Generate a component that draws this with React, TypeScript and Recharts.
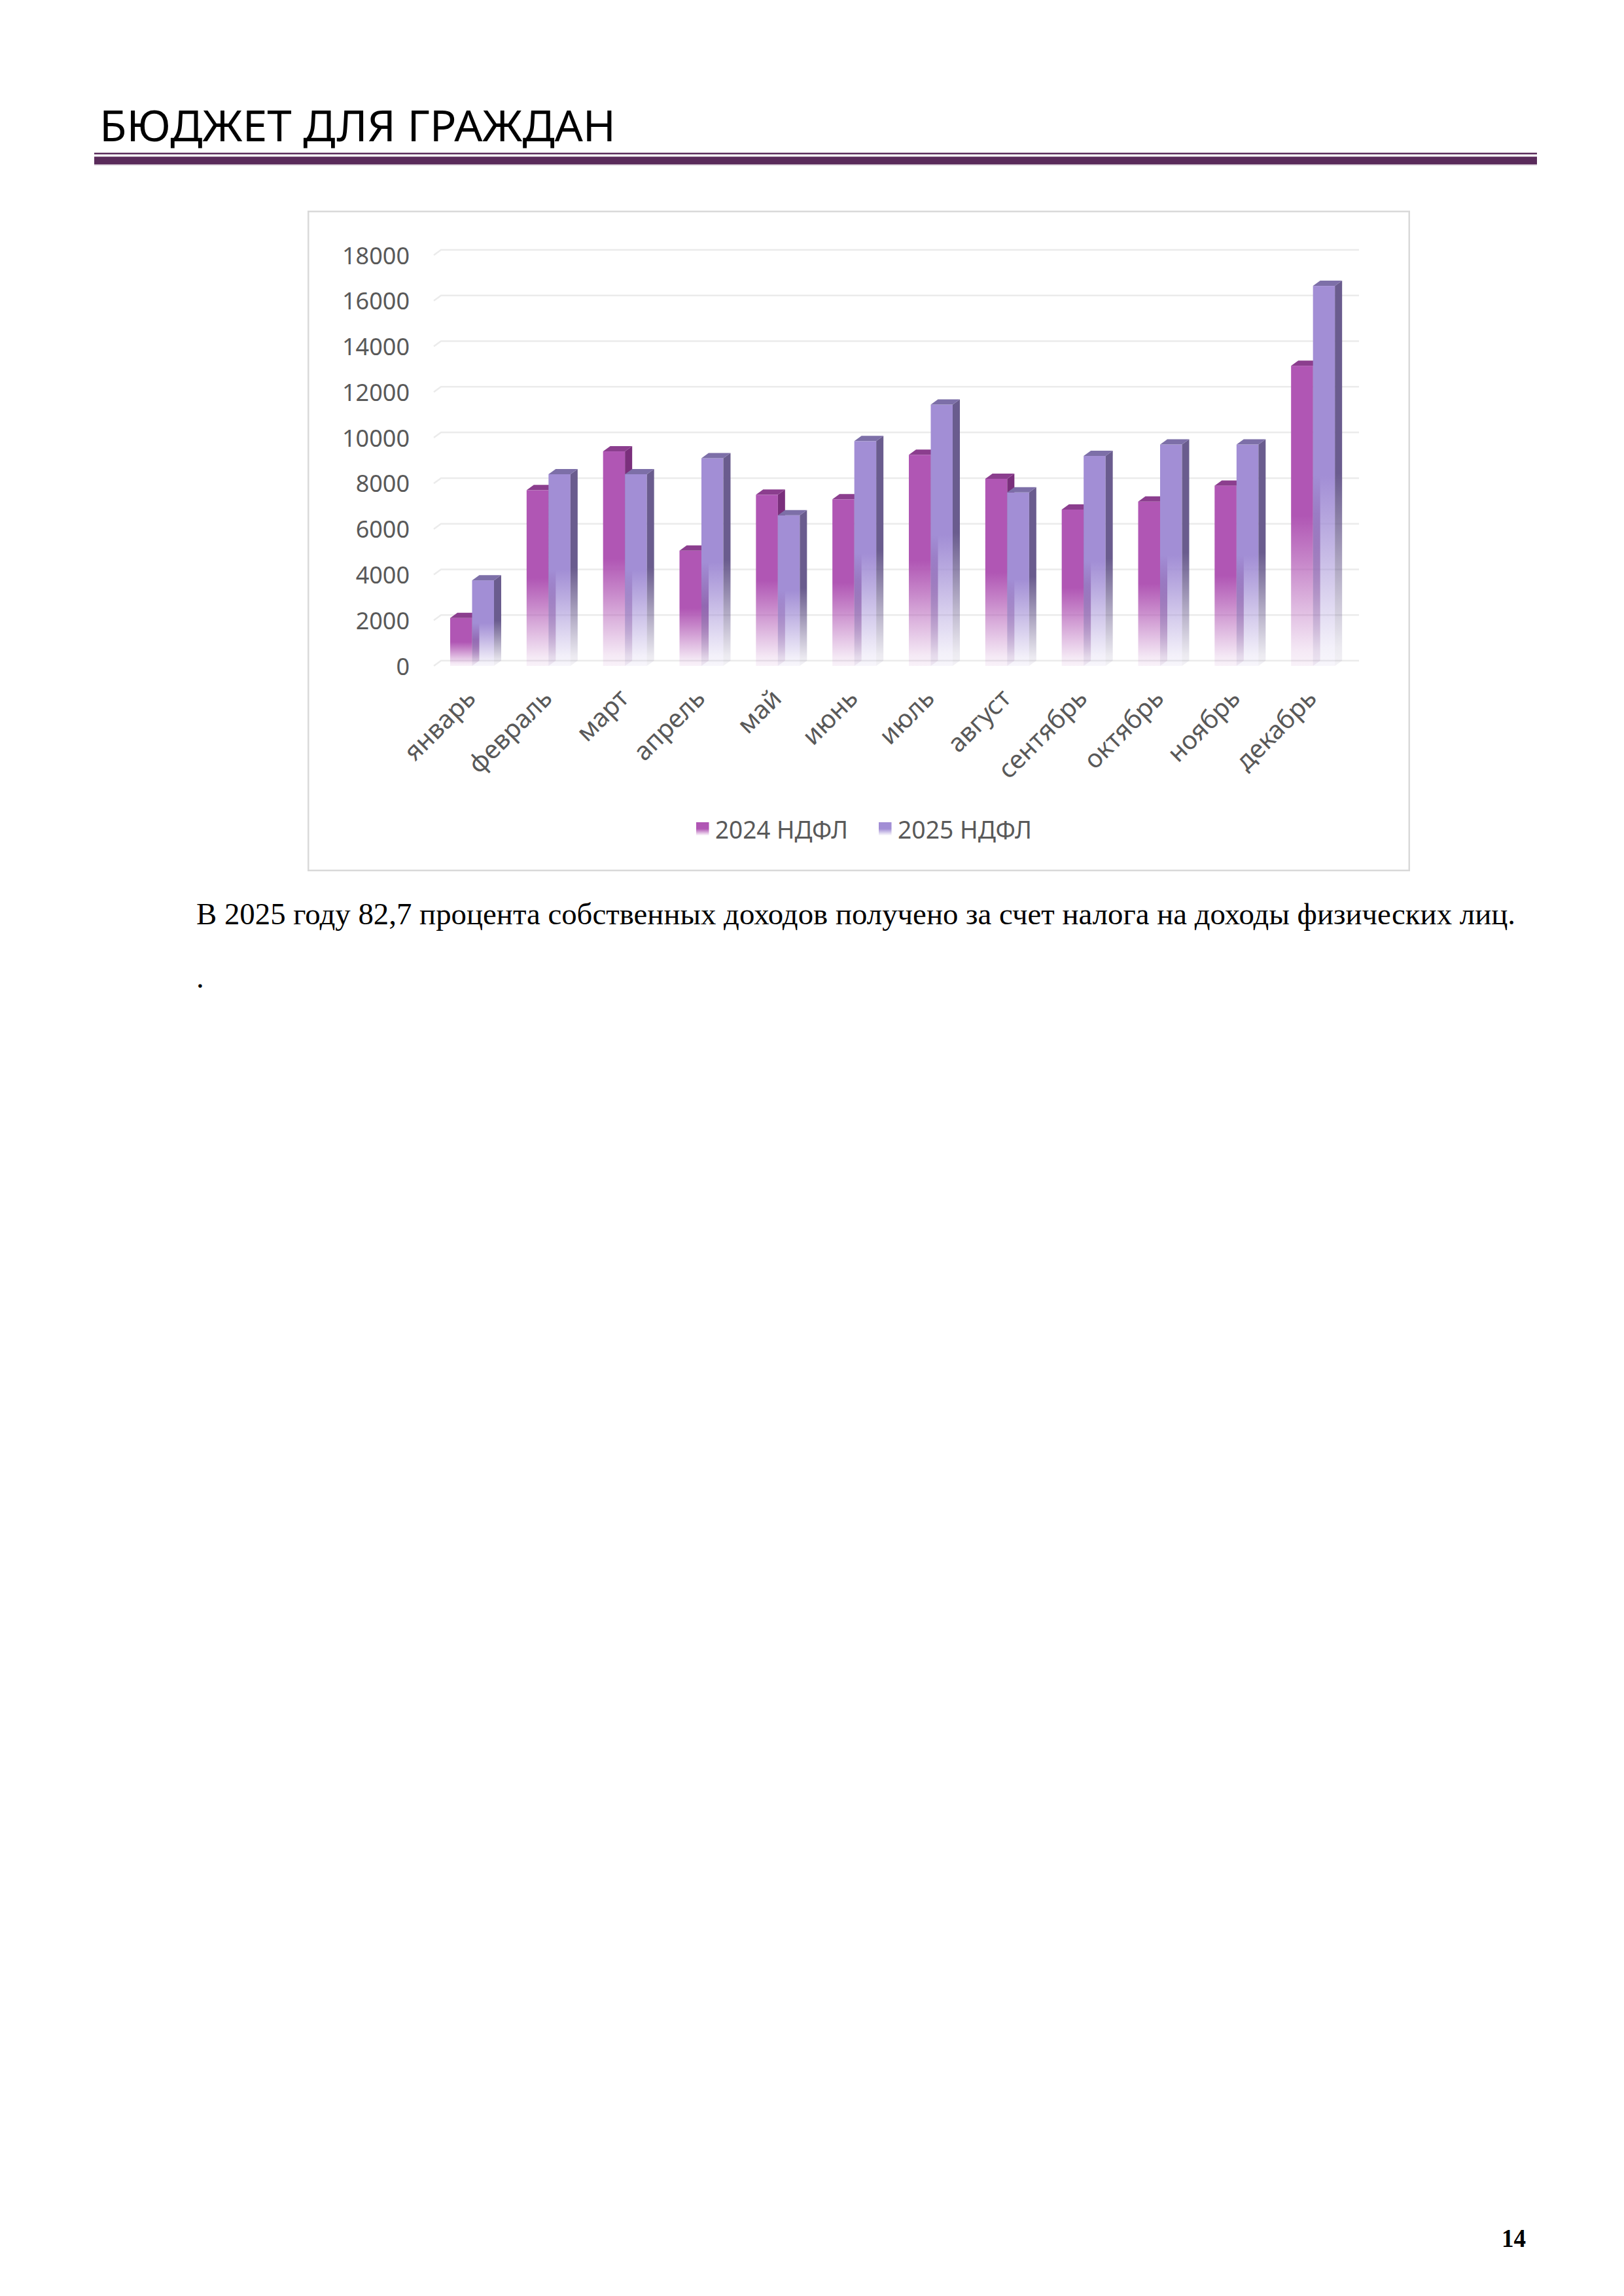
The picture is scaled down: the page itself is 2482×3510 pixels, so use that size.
import React from 'react';
import { BarChart, Bar, XAxis, YAxis, CartesianGrid, Legend } from 'recharts';

// ---- data ----
const months = ['январь', 'февраль', 'март', 'апрель', 'май', 'июнь', 'июль', 'август', 'сентябрь', 'октябрь', 'ноябрь', 'декабрь'];
const ndfl2024 = [2100, 7700, 9400, 5050, 7500, 7300, 9250, 8200, 6850, 7200, 7900, 13150];
const ndfl2025 = [3750, 8400, 8400, 9100, 6600, 9850, 11450, 7600, 9200, 9700, 9700, 16650];
const yTicks = [0, 2000, 4000, 6000, 8000, 10000, 12000, 14000, 16000, 18000];
const seriesNames = ['2024 НДФЛ', '2025 НДФЛ'];

const data = months.map((m, i) => ({ month: m, v2024: ndfl2024[i], v2025: ndfl2025[i] }));

// ---- styles ----
const SANS = "'Noto Sans', 'DejaVu Sans', sans-serif";
const SERIF = "'Liberation Serif', 'DejaVu Serif', serif";
const AXIS_COLOR = '#595959';
const W = 1684;
const H = 1008;
const CHART_LEFT = 470;
const CHART_TOP = 322;
const DX = 11;
const DY = 8;
const LEGEND_H = 50;

const C2024 = { front: '#B056B4', top: '#8B3E8E', side: '#7A2F7C' };
const C2025 = { front: '#A28ED5', top: '#7D6FA8', side: '#6A5C8E' };

const fadeStops = (color: string) => [
  <stop key="a" offset="0" stopColor={color} stopOpacity={1} />,
  <stop key="b" offset="0.5" stopColor={color} stopOpacity={1} />,
  <stop key="c" offset="0.65" stopColor={color} stopOpacity={0.72} />,
  <stop key="d" offset="0.8" stopColor={color} stopOpacity={0.42} />,
  <stop key="e" offset="0.95" stopColor={color} stopOpacity={0.13} />,
  <stop key="f" offset="1" stopColor={color} stopOpacity={0.08} />,
];

const makeShape = (c: { front: string; top: string; side: string }, id: string) => (props: any) => {
  const { x, y, width, height } = props;
  if (width == null || height == null) return null;
  const w = width;
  const h = height;
  return (
    <g>
      <rect x={x} y={y} width={w} height={h} fill={`url(#front${id})`} />
      <polygon
        points={`${x + w},${y} ${x + w + DX},${y - DY} ${x + w + DX},${y + h - DY} ${x + w},${y + h}`}
        fill={`url(#side${id})`}
      />
      <polygon
        points={`${x},${y} ${x + DX},${y - DY} ${x + w + DX},${y - DY} ${x + w},${y}`}
        fill={c.top}
      />
    </g>
  );
};

const shape2024 = makeShape(C2024, '2024');
const shape2025 = makeShape(C2025, '2025');

const XTick = (props: any) => {
  const { x, payload } = props;
  const tx = x + 8;
  const ty = 748;
  return (
    <text
      x={tx}
      y={ty}
      transform={`rotate(-45 ${tx} ${ty})`}
      textAnchor="end"
      fontSize={39}
      fontFamily={SANS}
      fill={AXIS_COLOR}
    >
      {payload.value}
    </text>
  );
};

const YTick = (props: any) => {
  const { y, payload } = props;
  return (
    <text x={156} y={y} textAnchor="end" dominantBaseline="central" fontSize={36} fontFamily={SANS} fill={AXIS_COLOR}>
      {payload.value}
    </text>
  );
};

const gridLine = (props: any) => {
  const { x1, y1, x2, y2, index } = props;
  return (
    <polyline
      key={`g-${index}`}
      points={`${x1},${y1} ${x1 + DX},${y1 - DY} ${x2 + DX + 1},${y2 - DY}`}
      fill="none"
      stroke="#EBEBEB"
      strokeWidth={2.5}
    />
  );
};

const LegendContent = () => (
  <svg width={W} height={LEGEND_H} style={{ display: 'block', overflow: 'visible' }}>
    <defs>
      <linearGradient id="lg2024" x1="0" y1="0" x2="0" y2="1">
        {fadeStops(C2024.front)}
      </linearGradient>
      <linearGradient id="lg2025" x1="0" y1="0" x2="0" y2="1">
        {fadeStops(C2025.front)}
      </linearGradient>
    </defs>
    <rect x={594} y={9} width={19.5} height={20} fill="url(#lg2024)" />
    <text x={623} y={34} fontSize={38} fontFamily={SANS} fill={AXIS_COLOR} textLength={203} lengthAdjust="spacingAndGlyphs">
      {seriesNames[0]}
    </text>
    <rect x={873} y={9} width={19.5} height={20} fill="url(#lg2025)" />
    <text x={902} y={34} fontSize={38} fontFamily={SANS} fill={AXIS_COLOR} textLength={205} lengthAdjust="spacingAndGlyphs">
      {seriesNames[1]}
    </text>
  </svg>
);

export default function App() {
  return (
    <div style={{ position: 'absolute', left: 0, top: 0, width: 2482, height: 3510, background: '#ffffff' }}>
      <svg width={2482} height={3510} style={{ position: 'absolute', left: 0, top: 0 }}>
        <text x={152} y={216} fontSize={65} fontFamily={SANS} fill="#000000" textLength={789} lengthAdjust="spacingAndGlyphs">
          БЮДЖЕТ ДЛЯ ГРАЖДАН
        </text>
        <rect x={144} y={233.5} width={2205} height={2.5} fill="#5A2B5B" />
        <rect x={144} y={239.5} width={2205} height={11.5} fill="#5A2B5B" />
        <rect x={144} y={251} width={2205} height={1.5} fill="#B9A6B9" />
        <rect x={471.25} y={323.25} width={1682.5} height={1007.5} fill="#ffffff" stroke="#D9D9D9" strokeWidth={2.5} />
        <text x={300} y={1413} fontSize={47} fontFamily={SERIF} fill="#000000" textLength={2016} lengthAdjust="spacingAndGlyphs">
          В 2025 году 82,7 процента собственных доходов получено за счет налога на доходы физических лиц.
        </text>
        <text x={300} y={1510} fontSize={47} fontFamily={SERIF} fill="#000000">
          .
        </text>
        <text x={2295} y={3435} fontSize={40} fontWeight="bold" fontFamily={SERIF} fill="#000000" textLength={37} lengthAdjust="spacingAndGlyphs">
          14
        </text>
      </svg>
      <div style={{ position: 'absolute', left: CHART_LEFT, top: CHART_TOP, width: W, height: H }}>
        <BarChart
          width={W}
          height={H}
          data={data}
          margin={{ top: 68, right: 89, left: 73, bottom: 32 }}
          barSize={33.5}
          barGap={0}
        >
          <defs>
            <linearGradient id="front2024" x1="0" y1="0" x2="0" y2="1">
              {fadeStops(C2024.front)}
            </linearGradient>
            <linearGradient id="side2024" x1="0" y1="0" x2="0" y2="1">
              {fadeStops(C2024.side)}
            </linearGradient>
            <linearGradient id="front2025" x1="0" y1="0" x2="0" y2="1">
              {fadeStops(C2025.front)}
            </linearGradient>
            <linearGradient id="side2025" x1="0" y1="0" x2="0" y2="1">
              {fadeStops(C2025.side)}
            </linearGradient>
          </defs>
          <CartesianGrid vertical={false} horizontal={gridLine} />
          <XAxis dataKey="month" interval={0} height={230} tick={<XTick />} tickLine={false} axisLine={false} />
          <YAxis
            width={120}
            domain={[0, 18000]}
            ticks={yTicks}
            interval={0}
            tick={<YTick />}
            tickLine={false}
            axisLine={false}
          />
          <Legend
            verticalAlign="bottom"
            align="center"
            content={() => <LegendContent />}
            wrapperStyle={{ left: 0, width: W }}
          />
          <Bar dataKey="v2024" name={seriesNames[0]} shape={shape2024} isAnimationActive={false} />
          <Bar dataKey="v2025" name={seriesNames[1]} shape={shape2025} isAnimationActive={false} />
        </BarChart>
      </div>
    </div>
  );
}
